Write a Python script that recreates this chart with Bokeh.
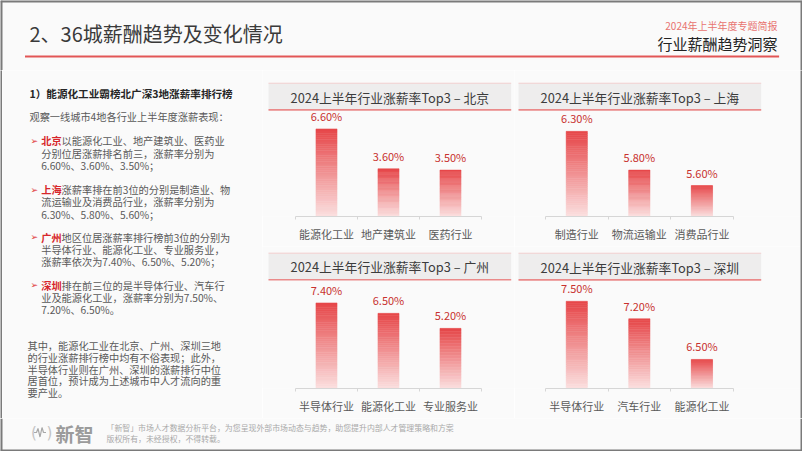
import numpy as np
from bokeh.plotting import figure
from bokeh.layouts import column, row
from bokeh.models import Range1d, ColumnDataSource, LabelSet, FixedTicker
from bokeh.embed import file_html
from bokeh.resources import INLINE
from bokeh.core.properties import value

FONT = "Noto Sans CJK SC"
BG = "#fafafa"
BORDER = "#7a7a7a"
GREY_TXT = "#595959"
RED_TXT = "#d7262b"

# ---------------- data ----------------
bj_categories = ["能源化工业", "地产建筑业", "医药行业"]
bj_values = [6.60, 3.60, 3.50]
sh_categories = ["制造行业", "物流运输业", "消费品行业"]
sh_values = [6.30, 5.80, 5.60]
gz_categories = ["半导体行业", "能源化工业", "专业服务业"]
gz_values = [7.40, 6.50, 5.20]
sz_categories = ["半导体行业", "汽车行业", "能源化工业"]
sz_values = [7.50, 7.20, 6.50]
panel_titles = ["2024上半年行业涨薪率Top3 – 北京", "2024上半年行业涨薪率Top3 – 上海",
                "2024上半年行业涨薪率Top3 – 广州", "2024上半年行业涨薪率Top3 – 深圳"]
# value-axis extents of each panel (as in the original chart)
bj_axis = (0.0, 7.0)
sh_axis = (5.2, 6.4)
gz_axis = (0.0, 8.0)
sz_axis = (6.0, 7.6)

AXIS_PX = 92.7  # pixel height of the value-axis extent


def base(w, h, x0, x1, ytop, ybot, bg=BG):
    p = figure(width=w, height=h, x_range=Range1d(x0, x1), y_range=Range1d(ybot, ytop),
               x_axis_location=None, y_axis_location=None, toolbar_location=None,
               output_backend="svg", title=None, min_border=0,
               background_fill_color=bg, border_fill_color=bg, outline_line_color=None)
    p.grid.visible = False
    return p


def txt(p, x, y, s, size, color, align="left", style="normal", font=FONT, baseline="middle"):
    p.text(x=[x], y=[y], text=[s], text_font=value(font), text_font_size=f"{size}px",
           text_color=color, text_align=align, text_baseline=baseline, text_font_style=style)


def seg(p, x0, y0, x1, y1, color, w):
    p.segment(x0=[x0], y0=[y0], x1=[x1], y1=[y1], line_color=color, line_width=w)


# ---------------- header (page pixels) ----------------
hdr = base(802, 70, 0, 802, 0, 70)
txt(hdr, 29, 33, "2、36城薪酬趋势及变化情况", 20, "#3a3a3a")
txt(hdr, 777, 25, "2024年上半年度专题简报", 10, "#e87370", align="right")
txt(hdr, 777, 43, "行业薪酬趋势洞察", 15, "#222222", align="right")
seg(hdr, 24.5, 56, 778.6, 56, "#e25656", 2)
seg(hdr, 0, 0, 802, 0, BORDER, 4)
seg(hdr, 0, 0, 0, 70, BORDER, 4)
seg(hdr, 802, 0, 802, 70, BORDER, 4)

# ---------------- left text ----------------
lt = base(260, 348, 2, 262, 70, 418)
txt(lt, 29, 92.7, "1）能源化工业霸榜北广深3地涨薪率排行榜", 10.6, "#262626", style="bold")
txt(lt, 29, 116, "观察一线城市4地各行业上半年度涨薪表现：", 10.2, GREY_TXT)

blocks = [
    ("北京", ["以能源化工业、地产建筑业、医药业", "分别位居涨薪排名前三，涨薪率分别为",
              "6.60%、3.60%、3.50%；"], [140, 152.5, 165]),
    ("上海", ["涨薪率排在前3位的分别是制造业、物", "流运输业及消费品行业，涨薪率分别为",
              "6.30%、5.80%、5.60%；"], [189, 201, 213.5]),
    ("广州", ["地区位居涨薪率排行榜前3位的分别为", "半导体行业、能源化工业、专业服务业，",
              "涨薪率依次为7.40%、6.50%、5.20%；"], [236.5, 249, 261]),
    ("深圳", ["排在前三位的是半导体行业、汽车行", "业及能源化工业，涨薪率分别为7.50%、",
              "7.20%、6.50%。"], [284.5, 296.5, 308.5]),
]
for city, lines, ys in blocks:
    txt(lt, 30, ys[0], "➢", 9, "#e03a3a", font="DejaVu Sans")
    txt(lt, 40.7, ys[0], city, 10.2, RED_TXT, style="bold")
    txt(lt, 61.1, ys[0], lines[0], 10.2, GREY_TXT)
    for s, y in zip(lines[1:], ys[1:]):
        txt(lt, 40.7, y, s, 10.2, GREY_TXT)

para = ["其中，能源化工业在北京、广州、深圳三地", "的行业涨薪排行榜中均有不俗表现；此外，",
        "半导体行业则在广州、深圳的涨薪排行中位", "居首位，预计成为上述城市中人才流向的重", "要产业。"]
for s, y in zip(para, [345, 356.8, 368.6, 380.4, 392.2]):
    txt(lt, 27, y, s, 10.2, GREY_TXT)

# ---------------- panels ----------------
TOP_C = np.array([230, 70, 72])
BOT_C = np.array([251, 224, 224])


def panel(cats, vals, axis, title, w, h, px0, py0, ax0, ax1, baseline, box):
    """px0/py0: panel's page origin; ax0/ax1: page x of the category band; baseline: page y."""
    ymin, ymax = axis
    unit_x = (ax1 - ax0) / len(cats)
    x_start = -0.5 - (ax0 - px0) / unit_x
    x_end = x_start + w / unit_x
    k = (ymax - ymin) / AXIS_PX

    def yd(page_y):
        return ymin + (baseline - page_y) * k

    frame_h = baseline - py0
    p = figure(width=w, height=h, x_range=Range1d(x_start, x_end), y_range=Range1d(ymin, yd(py0)),
               y_axis_location=None, toolbar_location=None, output_backend="svg", title=None,
               min_border_left=0, min_border_right=0, min_border_top=0,
               min_border_bottom=int(round(h - frame_h)),
               background_fill_color=BG, border_fill_color=BG, outline_line_color=None)
    p.grid.visible = False

    # header box
    bx0, bx1, by0, by1 = box
    xd = lambda page_x: x_start + (page_x - px0) / unit_x
    p.quad(left=[xd(bx0)], right=[xd(bx1)], top=[yd(by0)], bottom=[yd(by1)],
           fill_color="#eeeded", line_color=None)
    seg(p, xd(bx0), yd(by0), xd(bx1), yd(by0), "#f2cfcf", 1)
    seg(p, xd(bx0), yd(by1), xd(bx1), yd(by1), "#ea8a8a", 1.6)
    txt(p, xd((bx0 + bx1) / 2), yd((by0 + by1) / 2 + 0.5), title, 12.8, "#3c3c3c", align="center")

    # gradient bars
    idx = list(range(len(cats)))
    n = 40
    xs, bots, tops, cols = [], [], [], []
    for i, v in zip(idx, vals):
        for s in range(n):
            f = (s + 0.5) / n
            rgb = BOT_C + (TOP_C - BOT_C) * f
            xs.append(i)
            bots.append(ymin + (v - ymin) * s / n)
            tops.append(ymin + (v - ymin) * (s + 1) / n)
            cols.append("#%02x%02x%02x" % tuple(int(round(q)) for q in rgb))
    src = ColumnDataSource(dict(x=xs, b=bots, t=tops, c=cols))
    p.vbar(x="x", bottom="b", top="t", width=0.34, fill_color="c", line_color="c",
           line_width=0.5, source=src)
    lab = ColumnDataSource(dict(x=idx, y=vals, t=[f"{v:.2f}%" for v in vals]))
    p.add_layout(LabelSet(x="x", y="y", text="t", source=lab, text_align="center",
                          text_baseline="bottom", y_offset=5, text_font=value(FONT),
                          text_font_size="11px", text_color="#c8312f"))

    ax = p.xaxis[0]
    ax.ticker = FixedTicker(ticks=idx, minor_ticks=[i - 0.5 for i in idx] + [idx[-1] + 0.5])
    ax.major_label_overrides = {i: c for i, c in zip(idx, cats)}
    ax.bounds = (-0.5, idx[-1] + 0.5)
    ax.axis_line_color = "#d6d6d6"
    ax.major_tick_line_color = None
    ax.minor_tick_line_color = "#d6d6d6"
    ax.minor_tick_out = 3
    ax.minor_tick_in = 0
    ax.major_tick_out = 0
    ax.major_tick_in = 0
    ax.major_label_standoff = 6
    ax.major_label_text_font = FONT
    ax.major_label_text_font_size = "11px"
    ax.major_label_text_color = GREY_TXT
    return p


p_bj = panel(bj_categories, bj_values, bj_axis, panel_titles[0], 252, 176, 262, 70,
             295, 481, 215.7, (268, 510.7, 82.7, 109.3))
p_gz = panel(gz_categories, gz_values, gz_axis, panel_titles[2], 252, 172, 262, 246,
             295, 481, 388.3, (268, 510.7, 252.7, 279.3))
p_sh = panel(sh_categories, sh_values, sh_axis, panel_titles[1], 286, 176, 514, 70,
             545, 732.7, 215.7, (518, 760.7, 82.7, 109.3))
p_sz = panel(sz_categories, sz_values, sz_axis, panel_titles[3], 286, 172, 514, 246,
             545, 732.7, 387.5, (518, 760.7, 252.7, 279.3))


def bar(h):
    return base(2, h, 0, 1, 0, 1, bg=BORDER)


# ---------------- footer ----------------
ft = base(802, 33, 0, 802, 418, 451)
ft.line(x=[33.5, 36, 37.5, 39.5, 41.5, 43, 45.5], y=[432, 432, 428, 436.5, 427, 432, 432],
        line_color="#a8a8a8", line_width=1.2)
txt(ft, 30.5, 432, "(", 15, "#c4c4c4", font="DejaVu Sans")
txt(ft, 46, 432, ")", 15, "#c4c4c4", font="DejaVu Sans")
txt(ft, 55, 432.5, "新智", 19, "#9b9b9b", style="bold")
txt(ft, 106, 426.7, "「新智」市场人才数据分析平台，为您呈现外部市场动态与趋势，助您提升内部人才管理策略和方案", 7.9, "#a9a9a9")
txt(ft, 106, 437.7, "版权所有，未经授权，不得转载。", 7.9, "#a9a9a9")
seg(ft, 0, 418, 0, 451, BORDER, 4)
seg(ft, 802, 418, 802, 451, BORDER, 4)
seg(ft, 0, 451, 802, 451, BORDER, 4)

middle = row(bar(348), lt, column(p_bj, p_gz), column(p_sh, p_sz), bar(348))
layout = column(hdr, middle, ft)

open("out.html", "w").write(file_html(layout, INLINE))
